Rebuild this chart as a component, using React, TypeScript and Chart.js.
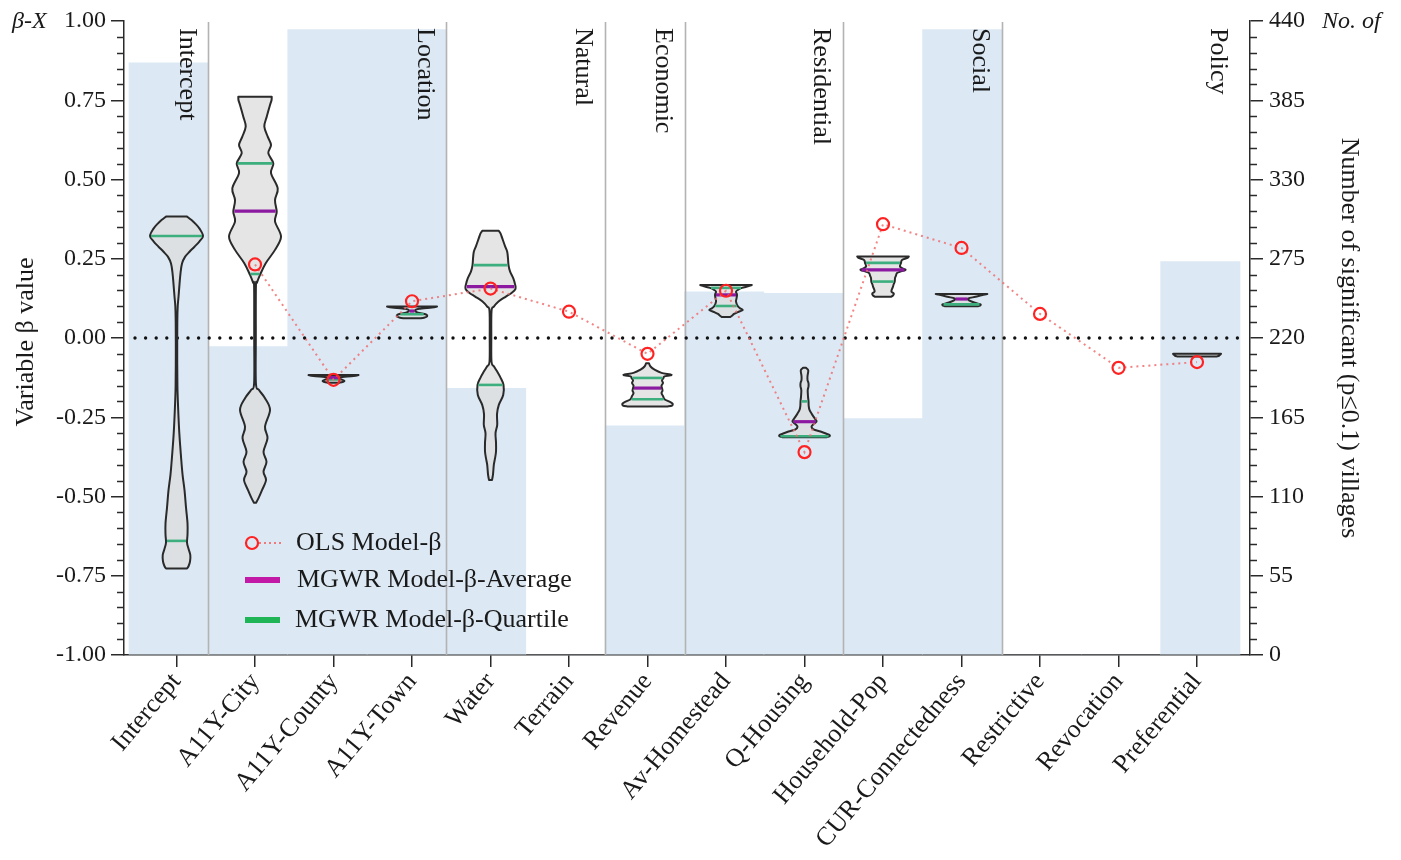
import React, { useEffect, useRef } from "react";
import { Chart, registerables } from "chart.js";

Chart.register(...registerables);

// ---------------- data ----------------
const categories = [
  "Intercept", "A11Y-City", "A11Y-County", "A11Y-Town", "Water", "Terrain", "Revenue",
  "Av-Homestead", "Q-Housing", "Household-Pop", "CUR-Connectedness", "Restrictive", "Revocation", "Preferential",
];
const significantVillages = [411, 214, 434, 434, 185, 0, 159, 252, 251, 164, 434, 0, 0, 273];
const olsBeta = [null, 0.232, -0.132, 0.116, 0.156, 0.083, -0.05, 0.149, -0.36, 0.359, 0.284, 0.076, -0.094, -0.076];
const mgwrAverage = [null, 0.4, -0.125, 0.085, 0.162, null, -0.158, 0.136, -0.264, 0.215, 0.123, null, null, null];
const mgwrQuartiles = [
  [0.322, -0.64], [0.551, 0.202], [-0.131], [0.075], [0.23, -0.148], [], [-0.126, -0.193],
  [0.158, 0.101], [-0.2, -0.31], [0.237, 0.178], [0.106], [], [], [],
];
const groupNames = ["Intercept", "Location", "Natural", "Economic", "Residential", "Social", "Policy"];
const groupLastIndex = [0, 3, 5, 6, 8, 10, 13];

// violin outlines: [beta, density] pairs, top to bottom
const violinIntercept = [
  [0.383, 10.5], [0.372, 15], [0.36, 19], [0.345, 23], [0.322, 26.5], [0.305, 23], [0.288, 18], [0.272, 13],
  [0.256, 8.5], [0.235, 5.5], [0.205, 4], [0.17, 3], [0.13, 2], [0.1, 1.2], [0.05, 0.8], [-0.05, 0.7],
  [-0.15, 0.9], [-0.22, 1.6], [-0.3, 2.8], [-0.374, 4.5], [-0.43, 6], [-0.48, 8], [-0.535, 9.5], [-0.585, 11],
  [-0.62, 11], [-0.645, 10.5], [-0.665, 12], [-0.685, 13.8], [-0.705, 13.5], [-0.72, 12], [-0.727, 10.5],
];
const violinCity = [
  [0.761, 16.7], [0.75, 16.5], [0.735, 15], [0.698, 11.7], [0.667, 9.3], [0.635, 12.7], [0.609, 16], [0.583, 13.3],
  [0.551, 18.3], [0.52, 16], [0.472, 22.7], [0.435, 20], [0.398, 21.7], [0.367, 20], [0.32, 26], [0.278, 20],
  [0.236, 10.7], [0.199, 5], [0.175, 2], [0.162, 0.9], [0.0, 0.8], [-0.143, 0.9], [-0.164, 4], [-0.19, 10],
  [-0.227, 15], [-0.28, 10], [-0.316, 12.5], [-0.359, 8.5], [-0.39, 11.5], [-0.422, 8.5], [-0.448, 11], [-0.48, 7],
  [-0.505, 3.5], [-0.52, 1],
];
const violinCounty = [[-0.117, 25], [-0.12, 20], [-0.124, 6], [-0.128, 4], [-0.132, 9], [-0.136, 11], [-0.139, 9], [-0.141, 6]];
const violinTown = [[0.099, 25], [0.096, 20], [0.092, 7], [0.086, 3], [0.08, 6], [0.074, 14], [0.068, 15], [0.064, 12], [0.062, 8]];
const violinWater = [
  [0.338, 8.3], [0.33, 10], [0.315, 11.7], [0.29, 14.5], [0.272, 16.7], [0.25, 17.5], [0.23, 18], [0.21, 19.5],
  [0.189, 22.7], [0.17, 24.5], [0.155, 25], [0.142, 21], [0.13, 15], [0.115, 8], [0.099, 3.3], [0.085, 1],
  [0.0, 0.8], [-0.075, 1], [-0.09, 3.5], [-0.106, 6.7], [-0.125, 10], [-0.148, 13], [-0.18, 12.7], [-0.211, 8.3],
  [-0.24, 6.5], [-0.274, 6.7], [-0.3, 5], [-0.33, 5.5], [-0.358, 5.5], [-0.38, 4.5], [-0.4, 3.3], [-0.43, 2.5], [-0.448, 1.5],
];
const violinRevenue = [
  [-0.08, 1.5], [-0.09, 3], [-0.1, 7], [-0.11, 14], [-0.116, 24], [-0.121, 17], [-0.126, 16], [-0.134, 14.5],
  [-0.142, 15.5], [-0.15, 14], [-0.158, 14.5], [-0.166, 15], [-0.174, 14], [-0.183, 15.5], [-0.193, 17],
  [-0.201, 22], [-0.207, 25], [-0.213, 24.5], [-0.216, 20],
];
const violinHomestead = [
  [0.167, 25.8], [0.163, 22], [0.158, 16], [0.152, 12], [0.146, 10], [0.136, 11], [0.125, 10.5], [0.115, 10],
  [0.101, 11.7], [0.094, 14], [0.088, 16.7], [0.082, 12], [0.076, 8], [0.07, 6], [0.066, 4],
];
const violinQHousing = [
  [-0.094, 1.5], [-0.1, 3.5], [-0.106, 3.7], [-0.12, 3], [-0.132, 3], [-0.143, 4], [-0.153, 4], [-0.165, 3.2],
  [-0.185, 3.5], [-0.2, 4], [-0.215, 4.2], [-0.227, 5], [-0.238, 7], [-0.248, 9], [-0.257, 11], [-0.264, 12],
  [-0.272, 9], [-0.28, 7], [-0.288, 9], [-0.295, 16], [-0.302, 22], [-0.306, 25], [-0.31, 25], [-0.313, 22],
];
const violinHousehold = [
  [0.257, 25.8], [0.252, 24], [0.246, 19], [0.237, 18], [0.225, 17], [0.219, 20], [0.215, 22.5], [0.21, 18],
  [0.205, 14], [0.197, 13], [0.189, 12], [0.178, 11.7], [0.168, 10.5], [0.162, 10], [0.152, 8.7], [0.146, 8.5],
  [0.14, 10.8], [0.134, 10], [0.13, 8],
];
const violinCUR = [[0.139, 25.8], [0.135, 20], [0.13, 14], [0.125, 7], [0.12, 7], [0.115, 10], [0.11, 15], [0.106, 19], [0.102, 18.5], [0.1, 16]];
const violinPreferential = [[-0.05, 24], [-0.053, 23], [-0.056, 22], [-0.058, 20]];

const violinProfiles = [
  violinIntercept, violinCity, violinCounty, violinTown, violinWater, null, violinRevenue,
  violinHomestead, violinQHousing, violinHousehold, violinCUR, null, null, violinPreferential,
];

// ---------------- styles ----------------
const SERIF = '"Liberation Serif", "Times New Roman", serif';
const TEXT = "#1a1a1a";
const AXIS = "#2a2a2a";
const BAR_COLOR = "#dce9f5";
const DENSITY_PER_CATEGORY = 78.5;
const LABEL_SIZE = 26;

function interpWidth(profile: number[][], beta: number) {
  for (let i = 0; i < profile.length - 1; i++) {
    const [b0, d0] = profile[i];
    const [b1, d1] = profile[i + 1];
    if ((beta <= b0 && beta >= b1) || (beta >= b0 && beta <= b1)) {
      const t = b0 === b1 ? 0 : (beta - b0) / (b1 - b0);
      return d0 + (d1 - d0) * t;
    }
  }
  return profile[profile.length - 1][1];
}

function curveThrough(ctx: CanvasRenderingContext2D, pts: { x: number; y: number }[]) {
  for (let i = 0; i < pts.length - 1; i++) {
    const p0 = pts[Math.max(i - 1, 0)];
    const p1 = pts[i];
    const p2 = pts[i + 1];
    const p3 = pts[Math.min(i + 2, pts.length - 1)];
    const t = 1 / 6;
    ctx.bezierCurveTo(
      p1.x + (p2.x - p0.x) * t, p1.y + (p2.y - p0.y) * t,
      p2.x - (p3.x - p1.x) * t, p2.y - (p3.y - p1.y) * t,
      p2.x, p2.y
    );
  }
}

const integerTicks = (s: any) => {
  s.ticks = categories.map((_, i) => ({ value: i }));
};

const overlayPlugin = {
  id: "violinOverlay",
  afterDatasetDraw(chart: any, args: any) {
    if (args.meta.type !== "bar") return;
    const ctx: CanvasRenderingContext2D = chart.ctx;
    const { top, bottom } = chart.chartArea;
    const x = chart.scales.x;
    const xb = chart.scales.xb;
    const y = chart.scales.y;
    ctx.save();

    // group separators
    ctx.strokeStyle = "#b3b3b3";
    ctx.lineWidth = 1.6;
    groupLastIndex.forEach((last, g) => {
      if (g === groupLastIndex.length - 1) return;
      const px = Math.round(xb.getPixelForValue(last + 0.5)) + 0.5;
      ctx.beginPath();
      ctx.moveTo(px, top + 1);
      ctx.lineTo(px, bottom);
      ctx.stroke();
    });

    // group labels
    ctx.fillStyle = TEXT;
    ctx.font = `${LABEL_SIZE}px ${SERIF}`;
    ctx.textAlign = "left";
    ctx.textBaseline = "middle";
    groupLastIndex.forEach((last, g) => {
      const boundary = xb.getPixelForValue(last + 0.5);
      ctx.save();
      ctx.translate(boundary - 22, top + 7);
      ctx.rotate(Math.PI / 2);
      ctx.fillText(groupNames[g], 0, 0);
      ctx.restore();
    });

    // zero line
    const y0 = y.getPixelForValue(0);
    ctx.strokeStyle = "#111";
    ctx.lineWidth = 3.4;
    ctx.lineCap = "round";
    ctx.setLineDash([0, 10.6]);
    ctx.beginPath();
    ctx.moveTo(xb.getPixelForValue(-0.5) + 6, y0);
    ctx.lineTo(xb.getPixelForValue(13.5) + 2, y0);
    ctx.stroke();
    ctx.setLineDash([]);
    ctx.lineCap = "butt";

    // violins
    const k = (x.getPixelForValue(1) - x.getPixelForValue(0)) / DENSITY_PER_CATEGORY;
    violinProfiles.forEach((profile, i) => {
      if (!profile) return;
      const cx = x.getPixelForValue(i);
      const right = profile.map(([b, d]) => ({ x: cx + d * k, y: y.getPixelForValue(b) }));
      const left = profile.map(([b, d]) => ({ x: cx - d * k, y: y.getPixelForValue(b) })).reverse();
      ctx.beginPath();
      ctx.moveTo(left[left.length - 1].x, left[left.length - 1].y);
      ctx.lineTo(right[0].x, right[0].y);
      curveThrough(ctx, right);
      ctx.lineTo(left[0].x, left[0].y);
      curveThrough(ctx, left);
      ctx.closePath();
      ctx.fillStyle = "rgba(220,220,220,0.75)";
      ctx.fill();
      ctx.lineJoin = "round";
      ctx.strokeStyle = AXIS;
      ctx.lineWidth = 2;
      ctx.stroke();

      const hline = (beta: number, color: string, w: number) => {
        const hw = interpWidth(profile, beta) * k - 1;
        const py = y.getPixelForValue(beta);
        ctx.strokeStyle = color;
        ctx.lineWidth = w;
        ctx.beginPath();
        ctx.moveTo(cx - hw, py);
        ctx.lineTo(cx + hw, py);
        ctx.stroke();
      };
      mgwrQuartiles[i].forEach((q) => hline(q, "#3dae7e", 2.6));
      const avg = mgwrAverage[i];
      if (avg !== null) hline(avg, "#8c1aa0", 3.2);
    });
    ctx.restore();
  },
  afterDraw(chart: any) {
    const ctx: CanvasRenderingContext2D = chart.ctx;
    const { left, right, top, bottom } = chart.chartArea;
    const y = chart.scales.y;
    const y2 = chart.scales.y2;
    ctx.save();
    // minor ticks
    ctx.strokeStyle = AXIS;
    ctx.lineWidth = 1.5;
    for (let v = -100; v <= 100; v += 5) {
      if (v % 25 === 0) continue;
      const py = Math.round(y.getPixelForValue(v / 100)) + 0.5;
      ctx.beginPath();
      ctx.moveTo(left - 7, py);
      ctx.lineTo(left, py);
      ctx.stroke();
    }
    for (let v = 0; v <= 440; v += 11) {
      if (v % 55 === 0) continue;
      const py = Math.round(y2.getPixelForValue(v)) + 0.5;
      ctx.beginPath();
      ctx.moveTo(right, py);
      ctx.lineTo(right + 7, py);
      ctx.stroke();
    }

    // corner labels
    ctx.fillStyle = TEXT;
    ctx.font = `italic 24px ${SERIF}`;
    ctx.textBaseline = "middle";
    ctx.textAlign = "left";
    ctx.fillText("\u03B2-X", 12, top + 1);
    ctx.fillText("No. of", 1322, top + 1);

    // axis titles
    ctx.font = `${LABEL_SIZE}px ${SERIF}`;
    ctx.textAlign = "center";
    ctx.save();
    ctx.translate(26, (top + bottom) / 2 + 4);
    ctx.rotate(-Math.PI / 2);
    ctx.fillText("Variable \u03B2 value", 0, 0);
    ctx.restore();
    ctx.save();
    ctx.translate(1349, (top + bottom) / 2);
    ctx.rotate(Math.PI / 2);
    ctx.fillText("Number of significant (p\u22640.1) villages", 0, 0);
    ctx.restore();

    // legend
    const lx = left + 121;
    ctx.textAlign = "left";
    ctx.font = `${LABEL_SIZE}px ${SERIF}`;
    ctx.strokeStyle = "rgba(240,110,110,0.9)";
    ctx.lineWidth = 2;
    ctx.setLineDash([2, 3]);
    ctx.beginPath();
    ctx.moveTo(lx + 14, 543);
    ctx.lineTo(lx + 36, 543);
    ctx.stroke();
    ctx.setLineDash([]);
    ctx.strokeStyle = "#ff2222";
    ctx.lineWidth = 2.2;
    ctx.beginPath();
    ctx.arc(lx + 7, 543, 6, 0, Math.PI * 2);
    ctx.stroke();
    ctx.fillStyle = TEXT;
    ctx.fillText("OLS Model-\u03B2", lx + 51, 543);

    ctx.lineWidth = 6;
    ctx.strokeStyle = "#c21aa6";
    ctx.beginPath();
    ctx.moveTo(lx, 580);
    ctx.lineTo(lx + 35, 580);
    ctx.stroke();
    ctx.fillText("MGWR Model-\u03B2-Average", lx + 52, 580);

    ctx.strokeStyle = "#1fb455";
    ctx.beginPath();
    ctx.moveTo(lx, 620);
    ctx.lineTo(lx + 35, 620);
    ctx.stroke();
    ctx.fillText("MGWR Model-\u03B2-Quartile", lx + 50, 620);
    ctx.restore();
  },
};

export default function App() {
  const ref = useRef<HTMLCanvasElement | null>(null);
  useEffect(() => {
    if (!ref.current) return;
    const tickFont = { family: SERIF, size: 24 };
    const axisGrid = { drawOnChartArea: false, drawTicks: true, tickLength: 13, color: AXIS, lineWidth: 1.5, offset: false };
    const chart = new Chart(ref.current, {
      type: "bar",
      data: {
        datasets: [
          {
            type: "bar",
            label: "Number of significant villages",
            data: significantVillages.map((v, i) => ({ x: i, y: v })),
            xAxisID: "xb",
            yAxisID: "y2",
            backgroundColor: BAR_COLOR,
            borderWidth: 0,
            grouped: false,
            barPercentage: 1,
            categoryPercentage: 1,
            order: 2,
          },
          {
            type: "line",
            label: "OLS Model-\u03B2",
            data: olsBeta.map((v, i) => ({ x: i, y: v })),
            xAxisID: "x",
            yAxisID: "y",
            borderColor: "rgba(240,110,110,0.85)",
            borderWidth: 2,
            borderDash: [2, 4],
            pointRadius: 6,
            pointBorderWidth: 2.2,
            pointBorderColor: "#ff2222",
            pointBackgroundColor: "rgba(0,0,0,0)",
            spanGaps: false,
            order: 1,
          },
        ],
      } as any,
      options: {
        responsive: false,
        animation: false,
        layout: { padding: { top: 21, left: 0, right: 0, bottom: 0 } },
        plugins: { legend: { display: false }, tooltip: { enabled: false } },
        scales: {
          x: {
            type: "linear",
            position: "bottom",
            offset: false,
            min: -0.669,
            max: 13.675,
            afterBuildTicks: integerTicks,
            afterFit: (s: any) => {
              s.height = 205;
            },
            ticks: {
              autoSkip: false,
              minRotation: 50,
              maxRotation: 50,
              padding: 0,
              color: TEXT,
              font: { family: SERIF, size: LABEL_SIZE },
              callback: (v: any) => categories[Math.round(v)] ?? "",
            },
            grid: { ...axisGrid, tickLength: 12 },
            border: { display: true, color: AXIS, width: 1.5 },
          },
          xb: {
            type: "linear",
            display: false,
            offset: false,
            grid: { offset: false },
            min: -0.563,
            max: 13.626,
            afterBuildTicks: integerTicks,
          },
          y: {
            position: "left",
            min: -1,
            max: 1,
            afterFit: (s: any) => {
              s.width = 124;
            },
            ticks: {
              stepSize: 0.25,
              padding: 5,
              color: TEXT,
              font: tickFont,
              callback: (v: any) => Number(v).toFixed(2),
            },
            grid: axisGrid,
            border: { display: true, color: AXIS, width: 1.5 },
          },
          y2: {
            position: "right",
            min: 0,
            max: 440,
            afterFit: (s: any) => {
              s.width = 151;
            },
            ticks: { stepSize: 55, padding: 6, color: TEXT, font: tickFont },
            grid: axisGrid,
            border: { display: true, color: AXIS, width: 1.5 },
          },
        },
      } as any,
      plugins: [overlayPlugin],
    });
    return () => chart.destroy();
  }, []);

  return (
    <div style={{ position: "fixed", left: 0, top: 0, width: 1401, height: 860, background: "#fff" }}>
      <canvas ref={ref} width={1401} height={860} style={{ display: "block" }} />
    </div>
  );
}
